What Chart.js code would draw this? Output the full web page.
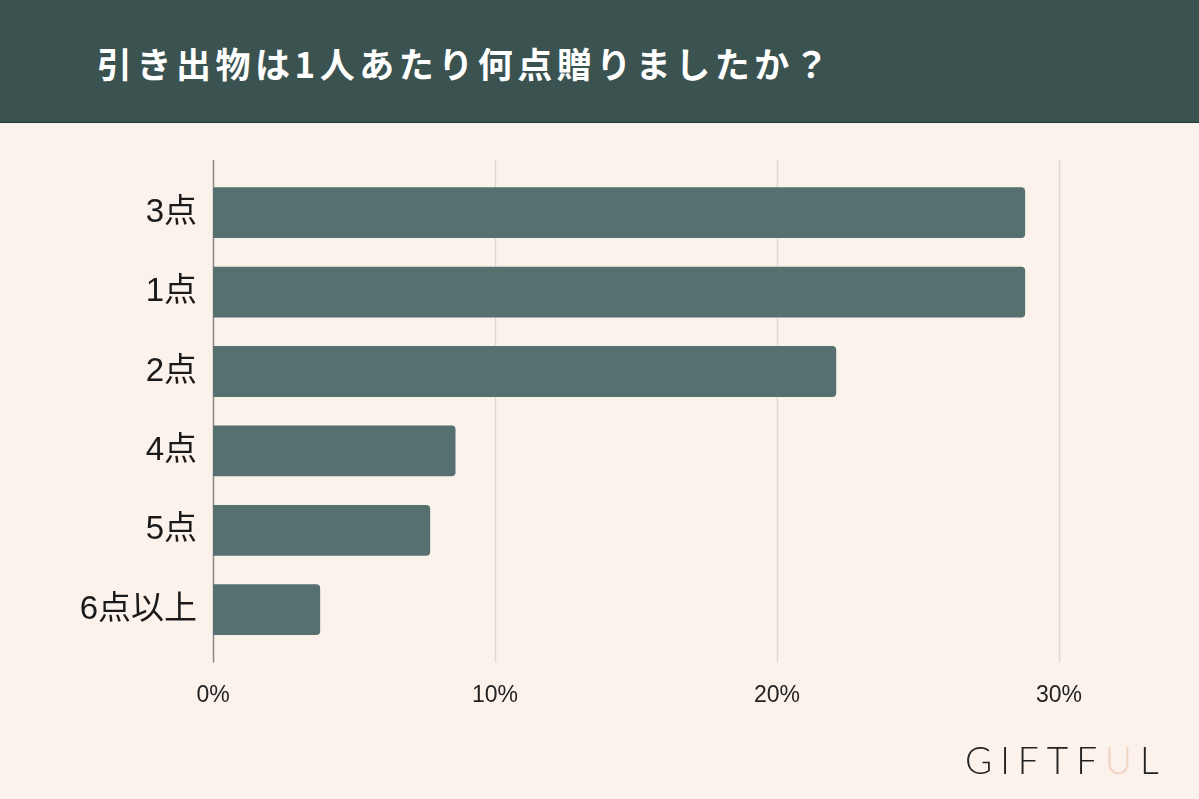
<!DOCTYPE html>
<html>
<head>
<meta charset="utf-8">
<script src="https://cdn.jsdelivr.net/npm/chart.js@4"></script>
<style>
  body { margin: 0; background: #fbf2ec; width: 1199px; height: 799px; overflow: hidden; position: relative; }
  #header { position: absolute; left: 0; top: 0; width: 1199px; height: 122px; background: #3a5250; border-bottom: 1px solid #263a38; }
  #title { position: absolute; left: 97px; top: 38px; color: #fff; font: bold 35px "Noto Sans CJK JP", sans-serif; letter-spacing: 4.5px; line-height: 50px; }
  #wrap { position: absolute; left: 0; top: 123px; width: 1199px; height: 636px; }
  #logo { position: absolute; left: 965px; top: 735px; font: 300 37px Lato, "DejaVu Sans", sans-serif; letter-spacing: 8px; color: #222; line-height: 50px; }
  #logo span { color: #f0d2bd; }
</style>
</head>
<body>
<div id="header"><div id="title">引き出物は1人あたり何点贈りましたか？</div></div>
<div id="wrap"><canvas id="chart"></canvas></div>
<div id="logo">GIFTF<span>U</span>L</div>
<script>
var categories = ['3点', '1点', '2点', '4点', '5点', '6点以上'];
var values = [28.8, 28.8, 22.1, 8.6, 7.7, 3.8];
var tickLabels = ['0%', '10%', '20%', '30%'];

// grid lines reach a bit past the bars, drawn from the x scale
var gridPlugin = {
    id: 'grid',
    beforeDatasetsDraw: function(chart) {
        var ctx = chart.ctx;
        var x = chart.scales.x;
        var top = chart.chartArea.top - 13;
        var bottom = chart.chartArea.bottom + 13;
        ctx.save();
        x.ticks.forEach(function(t, i) {
            var px = Math.round(x.getPixelForValue(t.value)) + 0.5;
            ctx.strokeStyle = i == 0 ? '#8c8784' : '#e0d9d3';
            ctx.lineWidth = 1.5;
            ctx.beginPath();
            ctx.moveTo(px, top);
            ctx.lineTo(px, bottom);
            ctx.stroke();
        });
        ctx.restore();
    }
};

new Chart(document.getElementById('chart'), {
    type: 'bar',
    data: {
        labels: categories,
        datasets: [{
            data: values,
            backgroundColor: '#55706e',
            borderRadius: 4,
            barPercentage: 0.64,
            categoryPercentage: 1
        }]
    },
    options: {
        indexAxis: 'y',
        responsive: true,
        maintainAspectRatio: false,
        animation: false,
        layout: { padding: { top: 50, right: 140, bottom: 18, left: 0 } },
        plugins: { legend: { display: false }, tooltip: { enabled: false } },
        scales: {
            x: {
                min: 0,
                max: 30,
                grid: { display: false, drawTicks: false },
                border: { display: false },
                ticks: {
                    stepSize: 10,
                    padding: 32,
                    color: '#222',
                    font: { family: '"Liberation Sans", Arial, sans-serif', size: 23 },
                    callback: function(v, i) { return tickLabels[i]; }
                }
            },
            y: {
                grid: { display: false, drawTicks: false },
                border: { display: false },
                afterFit: function(scale) { scale.width = 213; },
                ticks: {
                    padding: 16,
                    color: '#1a1a1a',
                    font: { family: '"Liberation Sans", "Noto Sans CJK JP", sans-serif', size: 33 }
                }
            }
        }
    },
    plugins: [gridPlugin]
});
</script>
</body>
</html>
